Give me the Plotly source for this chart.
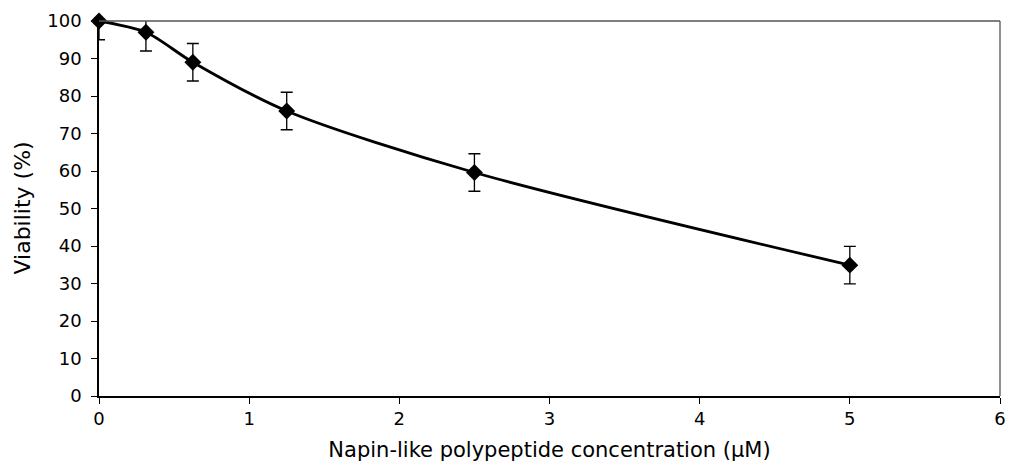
import plotly.graph_objects as go

conc = [0, 0.3125, 0.625, 1.25, 2.5, 5]
viability = [100, 97, 89, 76, 59.6, 34.9]
err = [5, 5, 5, 5, 5, 5]
x_ticks = [0, 1, 2, 3, 4, 5, 6]
y_ticks = [0, 10, 20, 30, 40, 50, 60, 70, 80, 90, 100]

tick_font = dict(family="DejaVu Sans, Arial, sans-serif", size=18, color="black")
title_font = dict(family="DejaVu Sans, Arial, sans-serif", size=21, color="black")

fig = go.Figure()
# error bars (clipped to the plot area)
fig.add_trace(go.Scatter(
    x=conc, y=viability, mode="markers",
    marker=dict(size=1, color="rgba(0,0,0,0)"),
    error_y=dict(type="data", array=err, visible=True, color="black", thickness=1.3, width=6),
    cliponaxis=True, showlegend=False, hoverinfo="skip"))
# smoothed line with diamond markers
fig.add_trace(go.Scatter(
    x=conc, y=viability, mode="lines+markers",
    line=dict(shape="spline", smoothing=0.8, color="black", width=2.8),
    marker=dict(symbol="diamond", size=13, color="black"),
    cliponaxis=False, showlegend=False))

fig.update_layout(
    width=1014, height=466,
    margin=dict(l=99, r=8, t=21, b=70),
    paper_bgcolor="white", plot_bgcolor="white",
    font=tick_font,
    xaxis=dict(range=[0, 6], tickvals=x_ticks, ticks="outside", ticklen=6, tickwidth=1.3,
               tickcolor="black", showline=True, linecolor="black", linewidth=1.5,
               showgrid=False, zeroline=False, tickfont=tick_font,
               title=dict(text="Napin-like polypeptide concentration (\u03bcM)", standoff=14, font=title_font)),
    yaxis=dict(range=[0, 100], tickvals=y_ticks, ticks="outside", ticklen=6, tickwidth=1.3,
               tickcolor="black", showline=True, linecolor="black", linewidth=1.5,
               showgrid=False, zeroline=False, tickfont=tick_font, ticklabelstandoff=6),
    annotations=[
        dict(text="Viability (%)", xref="paper", yref="paper", x=0, y=0.5,
             xanchor="center", yanchor="middle", xshift=-77, textangle=-90, showarrow=False,
             font=dict(family=title_font["family"], size=22, color="black")),
    ],
    shapes=[
        dict(type="line", xref="paper", yref="paper", x0=0, x1=1, y0=1, y1=1,
             line=dict(color="#555555", width=1.3)),
        dict(type="line", xref="paper", yref="paper", x0=1, x1=1, y0=0, y1=1,
             line=dict(color="#555555", width=1.3)),
    ],
)

fig.write_html("out.html")
